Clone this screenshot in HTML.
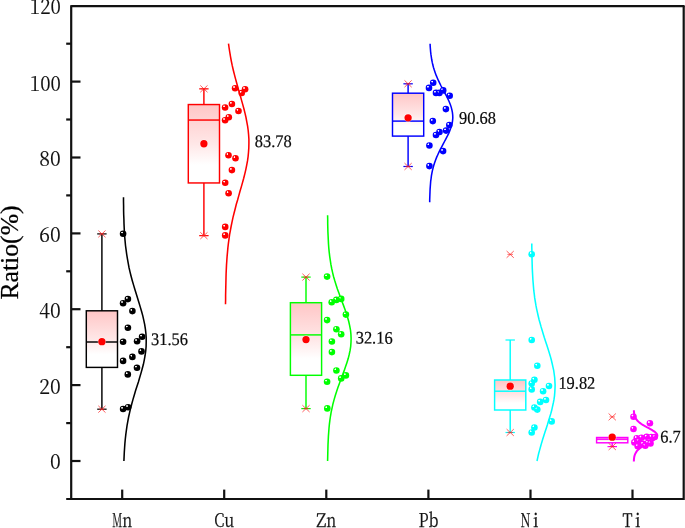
<!DOCTYPE html>
<html lang="en"><head><meta charset="utf-8"><title>Ratio box plot</title>
<style>html,body{margin:0;padding:0;background:#fff}svg{display:block}.tk{font-family:"Noto Serif CJK SC","Liberation Serif",serif;font-size:20.5px;fill:#111;stroke:#111;stroke-width:0.15px}.xk{font-family:"Noto Serif CJK SC","Liberation Serif",serif;font-size:19px;fill:#111;stroke:#111;stroke-width:0.25px}.vl{font-family:"Liberation Serif",serif;font-size:17px;fill:#0a0a0a;stroke:#0a0a0a;stroke-width:0.2px}.yl{font-family:"Liberation Serif",serif;font-size:26.2px;fill:#000;stroke:#000;stroke-width:0.25px}</style></head><body>
<svg width="685" height="528" viewBox="0 0 685 528">
<defs>
<linearGradient id="bg" x1="0" y1="0" x2="0" y2="1"><stop offset="0" stop-color="#ffc6c6"/><stop offset="0.5" stop-color="#ffe7e7"/><stop offset="0.77" stop-color="#ffffff"/><stop offset="1" stop-color="#ffffff"/></linearGradient>
<radialGradient id="s0" cx="0.34" cy="0.32" r="0.7"><stop offset="0" stop-color="#ffffff" stop-opacity="0.7"/><stop offset="0.08" stop-color="#ffffff" stop-opacity="0.5"/><stop offset="0.25" stop-color="#000000"/><stop offset="1" stop-color="#000000"/></radialGradient>
<radialGradient id="s1" cx="0.34" cy="0.32" r="0.7"><stop offset="0" stop-color="#ffffff" stop-opacity="0.7"/><stop offset="0.08" stop-color="#ffffff" stop-opacity="0.5"/><stop offset="0.25" stop-color="#ff0000"/><stop offset="1" stop-color="#ff0000"/></radialGradient>
<radialGradient id="s2" cx="0.34" cy="0.32" r="0.7"><stop offset="0" stop-color="#ffffff" stop-opacity="0.7"/><stop offset="0.08" stop-color="#ffffff" stop-opacity="0.5"/><stop offset="0.25" stop-color="#00ff00"/><stop offset="1" stop-color="#00ff00"/></radialGradient>
<radialGradient id="s3" cx="0.34" cy="0.32" r="0.7"><stop offset="0" stop-color="#ffffff" stop-opacity="0.7"/><stop offset="0.08" stop-color="#ffffff" stop-opacity="0.5"/><stop offset="0.25" stop-color="#0000ff"/><stop offset="1" stop-color="#0000ff"/></radialGradient>
<radialGradient id="s4" cx="0.34" cy="0.32" r="0.7"><stop offset="0" stop-color="#ffffff" stop-opacity="0.7"/><stop offset="0.08" stop-color="#ffffff" stop-opacity="0.5"/><stop offset="0.25" stop-color="#00ffff"/><stop offset="1" stop-color="#00ffff"/></radialGradient>
<radialGradient id="s5" cx="0.34" cy="0.32" r="0.7"><stop offset="0" stop-color="#ffffff" stop-opacity="0.7"/><stop offset="0.08" stop-color="#ffffff" stop-opacity="0.5"/><stop offset="0.25" stop-color="#ff00ff"/><stop offset="1" stop-color="#ff00ff"/></radialGradient>
</defs>
<rect width="685" height="528" fill="#ffffff"/>
<g id="g-Mn">
<g transform="translate(0 0.4)">
<line x1="101.9" y1="233.5" x2="101.9" y2="408.8" stroke="#000000" stroke-width="1.45"/>
<rect x="86.3" y="310.4" width="31.2" height="56.6" fill="url(#bg)" stroke="#000000" stroke-width="1.45"/>
<line x1="86.3" y1="341.6" x2="117.5" y2="341.6" stroke="#000000" stroke-width="1.45"/>
<line x1="97.2" y1="233.5" x2="106.6" y2="233.5" stroke="#000000" stroke-width="1.2"/>
<line x1="97.2" y1="408.8" x2="106.6" y2="408.8" stroke="#000000" stroke-width="1.2"/>
<path d="M98.3 230.1L105.5 236.9M98.3 236.9L105.5 230.1" stroke="#ff2020" stroke-width="0.8" fill="none" opacity="0.9"/>
<line x1="99.1" y1="233.5" x2="104.7" y2="233.5" stroke="#ff2020" stroke-width="1" opacity="0.6"/>
<path d="M98.3 405.4L105.5 412.2M98.3 412.2L105.5 405.4" stroke="#ff2020" stroke-width="0.8" fill="none" opacity="0.9"/>
<line x1="99.1" y1="408.8" x2="104.7" y2="408.8" stroke="#ff2020" stroke-width="1" opacity="0.6"/>
<circle cx="101.9" cy="341.3" r="4.2" fill="#ffffff" opacity="0.6"/>
<circle cx="101.9" cy="341.3" r="3.65" fill="#ff0000"/>
</g>
<path d="M123.5 197.2 L123.5 201.6 L123.6 206.0 L123.6 210.4 L123.7 214.8 L123.9 219.2 L124.0 223.6 L124.2 227.9 L124.4 232.3 L124.7 236.7 L125.1 241.1 L125.5 245.5 L126.1 249.9 L126.7 254.3 L127.4 258.7 L128.2 263.1 L129.0 267.5 L130.0 271.9 L131.1 276.3 L132.3 280.7 L133.6 285.1 L134.9 289.5 L136.3 293.9 L137.6 298.3 L139.0 302.7 L140.3 307.1 L141.6 311.5 L142.8 315.9 L143.8 320.3 L144.7 324.7 L145.4 329.1 L145.9 333.5 L146.2 337.9 L146.2 342.3 L146.1 346.7 L145.7 351.1 L145.1 355.5 L144.3 359.9 L143.4 364.3 L142.2 368.7 L141.0 373.1 L139.7 377.5 L138.4 381.9 L137.0 386.2 L135.6 390.6 L134.3 395.0 L133.0 399.4 L131.8 403.8 L130.6 408.2 L129.6 412.6 L128.6 417.0 L127.8 421.4 L127.0 425.8 L126.4 430.2 L125.8 434.6 L125.3 439.0 L124.9 443.4 L124.6 447.8 L124.3 452.2 L124.1 456.6 L123.9 461.0" fill="none" stroke="#000000" stroke-width="1.55" stroke-linecap="butt"/>
<circle cx="123.1" cy="233.7" r="3.3" fill="url(#s0)"/>
<circle cx="127.9" cy="299.1" r="3.3" fill="url(#s0)"/>
<circle cx="123.1" cy="303.2" r="3.3" fill="url(#s0)"/>
<circle cx="132.4" cy="311.1" r="3.3" fill="url(#s0)"/>
<circle cx="127.9" cy="327.7" r="3.3" fill="url(#s0)"/>
<circle cx="142.1" cy="336.8" r="3.3" fill="url(#s0)"/>
<circle cx="137.1" cy="341.2" r="3.3" fill="url(#s0)"/>
<circle cx="123.1" cy="341.7" r="3.3" fill="url(#s0)"/>
<circle cx="141.5" cy="351.4" r="3.3" fill="url(#s0)"/>
<circle cx="132.4" cy="356.9" r="3.3" fill="url(#s0)"/>
<circle cx="123.1" cy="360.9" r="3.3" fill="url(#s0)"/>
<circle cx="137.0" cy="367.8" r="3.3" fill="url(#s0)"/>
<circle cx="127.8" cy="374.4" r="3.3" fill="url(#s0)"/>
<circle cx="123.1" cy="409.0" r="3.3" fill="url(#s0)"/>
<circle cx="128.1" cy="407.2" r="3.3" fill="url(#s0)"/>
<text class="vl" transform="translate(151.0 345.0) rotate(0.05) scale(0.965 1.04)">31.56</text>
</g>
<g id="g-Cu">
<g transform="translate(0 0.25)">
<line x1="203.9" y1="88.6" x2="203.9" y2="235.4" stroke="#ff0000" stroke-width="1.45"/>
<rect x="188.3" y="104.3" width="31.2" height="78.4" fill="url(#bg)" stroke="#ff0000" stroke-width="1.45"/>
<line x1="188.3" y1="119.8" x2="219.5" y2="119.8" stroke="#ff0000" stroke-width="1.45"/>
<line x1="199.2" y1="88.6" x2="208.6" y2="88.6" stroke="#ff0000" stroke-width="1.2"/>
<line x1="199.2" y1="235.4" x2="208.6" y2="235.4" stroke="#ff0000" stroke-width="1.2"/>
<path d="M200.3 85.2L207.5 92.0M200.3 92.0L207.5 85.2" stroke="#ff2020" stroke-width="0.8" fill="none" opacity="0.9"/>
<line x1="201.1" y1="88.6" x2="206.7" y2="88.6" stroke="#ff2020" stroke-width="1" opacity="0.6"/>
<path d="M200.3 232.0L207.5 238.8M200.3 238.8L207.5 232.0" stroke="#ff2020" stroke-width="0.8" fill="none" opacity="0.9"/>
<line x1="201.1" y1="235.4" x2="206.7" y2="235.4" stroke="#ff2020" stroke-width="1" opacity="0.6"/>
<circle cx="203.9" cy="143.5" r="4.2" fill="#ffffff" opacity="0.6"/>
<circle cx="203.9" cy="143.5" r="3.65" fill="#ff0000"/>
</g>
<path d="M228.5 43.7 L229.1 48.0 L229.8 52.3 L230.5 56.7 L231.3 61.0 L232.2 65.4 L233.2 69.7 L234.3 74.1 L235.4 78.4 L236.6 82.7 L237.8 87.1 L239.0 91.4 L240.3 95.8 L241.5 100.1 L242.7 104.4 L243.9 108.8 L245.0 113.1 L246.0 117.5 L246.8 121.8 L247.6 126.2 L248.2 130.5 L248.6 134.8 L248.9 139.2 L248.9 143.5 L248.8 147.9 L248.5 152.2 L248.1 156.6 L247.5 160.9 L246.7 165.2 L245.8 169.6 L244.8 173.9 L243.7 178.3 L242.5 182.6 L241.3 186.9 L240.0 191.3 L238.8 195.6 L237.6 200.0 L236.3 204.3 L235.2 208.7 L234.1 213.0 L233.0 217.3 L232.1 221.7 L231.2 226.0 L230.4 230.4 L229.6 234.7 L229.0 239.0 L228.4 243.4 L227.9 247.7 L227.5 252.1 L227.1 256.4 L226.8 260.8 L226.5 265.1 L226.3 269.4 L226.1 273.8 L226.0 278.1 L225.9 282.5 L225.8 286.8 L225.7 291.1 L225.6 295.5 L225.6 299.8 L225.5 304.2" fill="none" stroke="#ff0000" stroke-width="1.55" stroke-linecap="butt"/>
<circle cx="235.1" cy="88.2" r="3.3" fill="url(#s1)"/>
<circle cx="245.1" cy="89.2" r="3.3" fill="url(#s1)"/>
<circle cx="241.7" cy="93.0" r="3.3" fill="url(#s1)"/>
<circle cx="231.9" cy="104.0" r="3.3" fill="url(#s1)"/>
<circle cx="225.1" cy="107.5" r="3.3" fill="url(#s1)"/>
<circle cx="238.5" cy="111.0" r="3.3" fill="url(#s1)"/>
<circle cx="228.8" cy="117.2" r="3.3" fill="url(#s1)"/>
<circle cx="225.1" cy="120.2" r="3.3" fill="url(#s1)"/>
<circle cx="228.5" cy="155.2" r="3.3" fill="url(#s1)"/>
<circle cx="235.5" cy="158.3" r="3.3" fill="url(#s1)"/>
<circle cx="231.9" cy="170.1" r="3.3" fill="url(#s1)"/>
<circle cx="225.2" cy="182.8" r="3.3" fill="url(#s1)"/>
<circle cx="228.6" cy="193.3" r="3.3" fill="url(#s1)"/>
<circle cx="225.2" cy="226.9" r="3.3" fill="url(#s1)"/>
<circle cx="225.2" cy="235.4" r="3.3" fill="url(#s1)"/>
<text class="vl" transform="translate(254.8 147.0) rotate(0.05) scale(0.965 1.04)">83.78</text>
</g>
<g id="g-Zn">
<g transform="translate(0 0.3)">
<line x1="306.0" y1="276.8" x2="306.0" y2="408.3" stroke="#00ff00" stroke-width="1.45"/>
<rect x="290.4" y="302.4" width="31.2" height="72.6" fill="url(#bg)" stroke="#00ff00" stroke-width="1.45"/>
<line x1="290.4" y1="334.6" x2="321.6" y2="334.6" stroke="#00ff00" stroke-width="1.45"/>
<line x1="301.3" y1="276.8" x2="310.7" y2="276.8" stroke="#00ff00" stroke-width="1.2"/>
<line x1="301.3" y1="408.3" x2="310.7" y2="408.3" stroke="#00ff00" stroke-width="1.2"/>
<path d="M302.4 273.4L309.6 280.2M302.4 280.2L309.6 273.4" stroke="#ff2020" stroke-width="0.8" fill="none" opacity="0.9"/>
<line x1="303.2" y1="276.8" x2="308.8" y2="276.8" stroke="#ff2020" stroke-width="1" opacity="0.6"/>
<path d="M302.4 404.9L309.6 411.7M302.4 411.7L309.6 404.9" stroke="#ff2020" stroke-width="0.8" fill="none" opacity="0.9"/>
<line x1="303.2" y1="408.3" x2="308.8" y2="408.3" stroke="#ff2020" stroke-width="1" opacity="0.6"/>
<circle cx="306.0" cy="339.3" r="4.2" fill="#ffffff" opacity="0.6"/>
<circle cx="306.0" cy="339.3" r="3.65" fill="#ff0000"/>
</g>
<path d="M327.6 215.3 L327.7 219.4 L327.7 223.5 L327.8 227.6 L327.9 231.7 L328.1 235.8 L328.3 239.9 L328.5 244.0 L328.8 248.1 L329.2 252.2 L329.7 256.3 L330.3 260.3 L330.9 264.4 L331.7 268.5 L332.6 272.6 L333.6 276.7 L334.8 280.8 L336.1 284.9 L337.4 289.0 L338.9 293.1 L340.4 297.2 L341.9 301.3 L343.5 305.4 L345.0 309.5 L346.4 313.6 L347.7 317.7 L348.8 321.8 L349.7 325.9 L350.5 330.0 L350.9 334.1 L351.1 338.2 L351.0 342.2 L350.7 346.3 L350.1 350.4 L349.2 354.5 L348.2 358.6 L346.9 362.7 L345.5 366.8 L344.1 370.9 L342.5 375.0 L341.0 379.1 L339.5 383.2 L338.0 387.3 L336.6 391.4 L335.3 395.5 L334.1 399.6 L333.0 403.7 L332.1 407.8 L331.2 411.9 L330.5 416.0 L329.9 420.1 L329.4 424.1 L329.0 428.2 L328.7 432.3 L328.4 436.4 L328.2 440.5 L328.0 444.6 L327.9 448.7 L327.8 452.8 L327.7 456.9 L327.6 461.0" fill="none" stroke="#00ff00" stroke-width="1.55" stroke-linecap="butt"/>
<circle cx="327.1" cy="276.6" r="3.3" fill="url(#s2)"/>
<circle cx="341.2" cy="298.9" r="3.3" fill="url(#s2)"/>
<circle cx="336.4" cy="299.9" r="3.3" fill="url(#s2)"/>
<circle cx="331.7" cy="302.3" r="3.3" fill="url(#s2)"/>
<circle cx="345.9" cy="314.6" r="3.3" fill="url(#s2)"/>
<circle cx="327.1" cy="320.1" r="3.3" fill="url(#s2)"/>
<circle cx="336.4" cy="329.2" r="3.3" fill="url(#s2)"/>
<circle cx="341.2" cy="334.3" r="3.3" fill="url(#s2)"/>
<circle cx="331.9" cy="341.5" r="3.3" fill="url(#s2)"/>
<circle cx="331.9" cy="352.1" r="3.3" fill="url(#s2)"/>
<circle cx="336.4" cy="370.5" r="3.3" fill="url(#s2)"/>
<circle cx="345.9" cy="375.4" r="3.3" fill="url(#s2)"/>
<circle cx="341.2" cy="378.4" r="3.3" fill="url(#s2)"/>
<circle cx="327.1" cy="381.8" r="3.3" fill="url(#s2)"/>
<circle cx="327.3" cy="408.4" r="3.3" fill="url(#s2)"/>
<text class="vl" transform="translate(355.7 343.6) rotate(0.05) scale(0.965 1.04)">32.16</text>
</g>
<g id="g-Pb">
<g transform="translate(0 0.5)">
<line x1="408.1" y1="83.3" x2="408.1" y2="166.0" stroke="#0000ff" stroke-width="1.45"/>
<rect x="392.5" y="92.7" width="31.2" height="42.9" fill="url(#bg)" stroke="#0000ff" stroke-width="1.45"/>
<line x1="392.5" y1="120.6" x2="423.7" y2="120.6" stroke="#0000ff" stroke-width="1.45"/>
<line x1="403.4" y1="83.3" x2="412.8" y2="83.3" stroke="#0000ff" stroke-width="1.2"/>
<line x1="403.4" y1="166.0" x2="412.8" y2="166.0" stroke="#0000ff" stroke-width="1.2"/>
<path d="M404.5 79.9L411.7 86.7M404.5 86.7L411.7 79.9" stroke="#ff2020" stroke-width="0.8" fill="none" opacity="0.9"/>
<line x1="405.3" y1="83.3" x2="410.9" y2="83.3" stroke="#ff2020" stroke-width="1" opacity="0.6"/>
<path d="M404.5 162.6L411.7 169.4M404.5 169.4L411.7 162.6" stroke="#ff2020" stroke-width="0.8" fill="none" opacity="0.9"/>
<line x1="405.3" y1="166.0" x2="410.9" y2="166.0" stroke="#ff2020" stroke-width="1" opacity="0.6"/>
<circle cx="408.1" cy="117.3" r="4.2" fill="#ffffff" opacity="0.6"/>
<circle cx="408.1" cy="117.3" r="3.65" fill="#ff0000"/>
</g>
<path d="M430.1 43.7 L430.2 46.3 L430.4 48.9 L430.6 51.6 L430.9 54.2 L431.3 56.9 L431.7 59.5 L432.2 62.2 L432.8 64.8 L433.5 67.5 L434.3 70.1 L435.2 72.7 L436.2 75.4 L437.3 78.0 L438.5 80.7 L439.8 83.3 L441.1 86.0 L442.5 88.6 L443.9 91.3 L445.3 93.9 L446.7 96.5 L448.0 99.2 L449.2 101.8 L450.3 104.5 L451.2 107.1 L451.9 109.8 L452.4 112.4 L452.7 115.0 L452.8 117.7 L452.6 120.3 L452.2 123.0 L451.6 125.6 L450.7 128.3 L449.7 130.9 L448.6 133.6 L447.3 136.2 L445.9 138.8 L444.5 141.5 L443.1 144.1 L441.7 146.8 L440.3 149.4 L439.0 152.1 L437.8 154.7 L436.6 157.4 L435.6 160.0 L434.7 162.6 L433.8 165.3 L433.1 167.9 L432.4 170.6 L431.9 173.2 L431.4 175.9 L431.1 178.5 L430.7 181.2 L430.5 183.8 L430.3 186.4 L430.1 189.1 L430.0 191.7 L429.9 194.4 L429.8 197.0 L429.7 199.7 L429.7 202.3" fill="none" stroke="#0000ff" stroke-width="1.55" stroke-linecap="butt"/>
<circle cx="433.2" cy="82.8" r="3.3" fill="url(#s3)"/>
<circle cx="429.0" cy="87.9" r="3.3" fill="url(#s3)"/>
<circle cx="443.2" cy="90.4" r="3.3" fill="url(#s3)"/>
<circle cx="436.0" cy="92.9" r="3.3" fill="url(#s3)"/>
<circle cx="439.4" cy="92.9" r="3.3" fill="url(#s3)"/>
<circle cx="449.7" cy="95.7" r="3.3" fill="url(#s3)"/>
<circle cx="445.9" cy="109.1" r="3.3" fill="url(#s3)"/>
<circle cx="432.8" cy="121.1" r="3.3" fill="url(#s3)"/>
<circle cx="449.3" cy="125.1" r="3.3" fill="url(#s3)"/>
<circle cx="446.1" cy="130.6" r="3.3" fill="url(#s3)"/>
<circle cx="439.5" cy="132.0" r="3.3" fill="url(#s3)"/>
<circle cx="436.0" cy="135.0" r="3.3" fill="url(#s3)"/>
<circle cx="429.4" cy="145.5" r="3.3" fill="url(#s3)"/>
<circle cx="443.1" cy="151.1" r="3.3" fill="url(#s3)"/>
<circle cx="429.4" cy="166.1" r="3.3" fill="url(#s3)"/>
<text class="vl" transform="translate(459.0 123.7) rotate(0.05) scale(0.965 1.04)">90.68</text>
</g>
<g id="g-Ni">
<g transform="translate(0 0.4)">
<line x1="510.2" y1="339.6" x2="510.2" y2="432.1" stroke="#00ffff" stroke-width="1.45"/>
<rect x="494.6" y="379.6" width="31.2" height="30.0" fill="url(#bg)" stroke="#00ffff" stroke-width="1.45"/>
<line x1="494.6" y1="390.8" x2="525.8" y2="390.8" stroke="#00ffff" stroke-width="1.45"/>
<line x1="505.5" y1="339.6" x2="514.9" y2="339.6" stroke="#00ffff" stroke-width="1.2"/>
<line x1="505.5" y1="432.1" x2="514.9" y2="432.1" stroke="#00ffff" stroke-width="1.2"/>
<path d="M506.6 250.6L513.8 257.4M506.6 257.4L513.8 250.6" stroke="#ff2020" stroke-width="0.8" fill="none" opacity="0.9"/>
<line x1="507.4" y1="254.0" x2="513.0" y2="254.0" stroke="#ff2020" stroke-width="1" opacity="0.6"/>
<path d="M506.6 428.7L513.8 435.5M506.6 435.5L513.8 428.7" stroke="#ff2020" stroke-width="0.8" fill="none" opacity="0.9"/>
<line x1="507.4" y1="432.1" x2="513.0" y2="432.1" stroke="#ff2020" stroke-width="1" opacity="0.6"/>
<circle cx="510.2" cy="385.8" r="4.2" fill="#ffffff" opacity="0.6"/>
<circle cx="510.2" cy="385.8" r="3.65" fill="#ff0000"/>
</g>
<path d="M531.8 243.6 L531.8 247.2 L531.9 250.8 L531.9 254.4 L532.0 258.1 L532.1 261.7 L532.2 265.3 L532.3 268.9 L532.5 272.6 L532.7 276.2 L532.9 279.8 L533.2 283.4 L533.5 287.1 L533.8 290.7 L534.3 294.3 L534.7 297.9 L535.3 301.5 L535.9 305.2 L536.6 308.8 L537.4 312.4 L538.2 316.0 L539.1 319.7 L540.1 323.3 L541.1 326.9 L542.2 330.5 L543.3 334.2 L544.4 337.8 L545.6 341.4 L546.8 345.0 L548.0 348.7 L549.1 352.3 L550.2 355.9 L551.2 359.5 L552.1 363.2 L552.9 366.8 L553.7 370.4 L554.2 374.0 L554.7 377.7 L554.9 381.3 L555.1 384.9 L555.0 388.5 L554.8 392.1 L554.5 395.8 L554.0 399.4 L553.3 403.0 L552.5 406.6 L551.7 410.3 L550.7 413.9 L549.6 417.5 L548.5 421.1 L547.4 424.8 L546.2 428.4 L545.0 432.0 L543.9 435.6 L542.7 439.3 L541.6 442.9 L540.6 446.5 L539.6 450.1 L538.6 453.8 L537.8 457.4 L537.0 461.0" fill="none" stroke="#00ffff" stroke-width="1.55" stroke-linecap="butt"/>
<circle cx="531.7" cy="254.2" r="3.3" fill="url(#s4)"/>
<circle cx="531.7" cy="340.0" r="3.3" fill="url(#s4)"/>
<circle cx="537.3" cy="365.8" r="3.3" fill="url(#s4)"/>
<circle cx="534.4" cy="379.8" r="3.3" fill="url(#s4)"/>
<circle cx="531.7" cy="383.5" r="3.3" fill="url(#s4)"/>
<circle cx="549.0" cy="386.0" r="3.3" fill="url(#s4)"/>
<circle cx="531.7" cy="389.4" r="3.3" fill="url(#s4)"/>
<circle cx="543.1" cy="391.2" r="3.3" fill="url(#s4)"/>
<circle cx="546.0" cy="400.0" r="3.3" fill="url(#s4)"/>
<circle cx="540.2" cy="401.9" r="3.3" fill="url(#s4)"/>
<circle cx="534.4" cy="407.5" r="3.3" fill="url(#s4)"/>
<circle cx="537.3" cy="409.6" r="3.3" fill="url(#s4)"/>
<circle cx="551.7" cy="421.4" r="3.3" fill="url(#s4)"/>
<circle cx="534.4" cy="427.5" r="3.3" fill="url(#s4)"/>
<circle cx="531.7" cy="432.5" r="3.3" fill="url(#s4)"/>
<text class="vl" transform="translate(558.4 388.7) rotate(0.05) scale(0.965 1.04)">19.82</text>
</g>
<g id="g-Ti">
<g transform="translate(0 0.5)">
<line x1="612.2" y1="436.9" x2="612.2" y2="446.1" stroke="#ff00ff" stroke-width="1.45"/>
<rect x="596.6" y="437.0" width="31.2" height="5.3" fill="url(#bg)" stroke="#ff00ff" stroke-width="1.45"/>
<line x1="596.6" y1="438.7" x2="627.9" y2="438.7" stroke="#ff00ff" stroke-width="1.45"/>
<line x1="607.5" y1="446.1" x2="617.0" y2="446.1" stroke="#ff00ff" stroke-width="1.2"/>
<path d="M608.6 413.0L615.9 419.8M608.6 419.8L615.9 413.0" stroke="#ff2020" stroke-width="0.8" fill="none" opacity="0.9"/>
<line x1="609.5" y1="416.4" x2="615.0" y2="416.4" stroke="#ff2020" stroke-width="1" opacity="0.6"/>
<path d="M608.6 442.7L615.9 449.5M608.6 449.5L615.9 442.7" stroke="#ff2020" stroke-width="0.8" fill="none" opacity="0.9"/>
<line x1="609.5" y1="446.1" x2="615.0" y2="446.1" stroke="#ff2020" stroke-width="1" opacity="0.6"/>
<circle cx="612.2" cy="436.7" r="4.2" fill="#ffffff" opacity="0.6"/>
<circle cx="612.2" cy="436.7" r="3.65" fill="#ff0000"/>
</g>
<path d="M633.9 410.3 L633.9 411.2 L634.0 412.1 L634.1 412.9 L634.2 413.8 L634.4 414.6 L634.6 415.5 L634.8 416.3 L635.1 417.2 L635.5 418.0 L636.0 418.9 L636.6 419.7 L637.3 420.6 L638.2 421.4 L639.1 422.3 L640.2 423.1 L641.4 424.0 L642.7 424.8 L644.2 425.7 L645.7 426.5 L647.2 427.4 L648.8 428.2 L650.4 429.1 L651.8 429.9 L653.2 430.8 L654.5 431.6 L655.5 432.5 L656.4 433.3 L657.0 434.2 L657.3 435.1 L657.3 435.9 L657.1 436.8 L656.6 437.6 L655.8 438.5 L654.8 439.3 L653.6 440.2 L652.2 441.0 L650.7 441.9 L649.2 442.7 L647.6 443.6 L646.0 444.4 L644.5 445.3 L643.1 446.1 L641.7 447.0 L640.5 447.8 L639.4 448.7 L638.4 449.5 L637.5 450.4 L636.8 451.2 L636.2 452.1 L635.7 452.9 L635.2 453.8 L634.9 454.6 L634.6 455.5 L634.4 456.3 L634.2 457.2 L634.1 458.0 L634.0 458.9 L633.9 459.8 L633.9 460.6 L633.8 461.5" fill="none" stroke="#ff00ff" stroke-width="2.0" stroke-linecap="butt"/>
<circle cx="633.5" cy="416.7" r="3.3" fill="url(#s5)"/>
<circle cx="649.9" cy="423.3" r="3.3" fill="url(#s5)"/>
<circle cx="633.5" cy="429.0" r="3.3" fill="url(#s5)"/>
<circle cx="636.7" cy="438.2" r="3.3" fill="url(#s5)"/>
<circle cx="641.5" cy="437.7" r="3.3" fill="url(#s5)"/>
<circle cx="646.7" cy="436.8" r="3.3" fill="url(#s5)"/>
<circle cx="651.4" cy="437.0" r="3.3" fill="url(#s5)"/>
<circle cx="654.7" cy="437.0" r="3.3" fill="url(#s5)"/>
<circle cx="634.4" cy="442.4" r="3.3" fill="url(#s5)"/>
<circle cx="638.6" cy="441.0" r="3.3" fill="url(#s5)"/>
<circle cx="642.9" cy="443.9" r="3.3" fill="url(#s5)"/>
<circle cx="648.1" cy="442.9" r="3.3" fill="url(#s5)"/>
<circle cx="637.7" cy="446.2" r="3.3" fill="url(#s5)"/>
<circle cx="650.5" cy="443.4" r="3.3" fill="url(#s5)"/>
<circle cx="645.3" cy="445.8" r="3.3" fill="url(#s5)"/>
<text class="vl" transform="translate(660.2 442.6) rotate(0.05) scale(0.965 1.04)">6.7</text>
</g>
<g stroke="#111" stroke-width="2.2" fill="none" stroke-linecap="butt">
<path d="M66.2 499.0H683.7"/>
<path d="M71.2 499.9V5.199999999999999"/>
<path d="M71.2 6.1H684.6"/>
<path d="M683.7 6.1V499.9"/>
<path d="M71.2 461.0h9.3"/>
<path d="M71.2 385.1h9.3"/>
<path d="M71.2 309.2h9.3"/>
<path d="M71.2 233.4h9.3"/>
<path d="M71.2 157.5h9.3"/>
<path d="M71.2 81.6h9.3"/>
<path d="M71.2 423.1h-5"/>
<path d="M71.2 347.2h-5"/>
<path d="M71.2 271.3h-5"/>
<path d="M71.2 195.4h-5"/>
<path d="M71.2 119.5h-5"/>
<path d="M71.2 43.7h-5"/>
<path d="M122.2 499.0v-9.4"/>
<path d="M224.2 499.0v-9.4"/>
<path d="M326.3 499.0v-9.4"/>
<path d="M428.4 499.0v-9.4"/>
<path d="M530.5 499.0v-9.4"/>
<path d="M632.5 499.0v-9.4"/>
</g>
<text class="tk" x="50.10" y="469.45" textLength="10.75" lengthAdjust="spacingAndGlyphs">0</text>
<text class="tk" x="39.35" y="393.57" textLength="21.50" lengthAdjust="spacingAndGlyphs">20</text>
<text class="tk" x="39.35" y="317.69" textLength="21.50" lengthAdjust="spacingAndGlyphs">40</text>
<text class="tk" x="39.35" y="241.81" textLength="21.50" lengthAdjust="spacingAndGlyphs">60</text>
<text class="tk" x="39.35" y="165.93" textLength="21.50" lengthAdjust="spacingAndGlyphs">80</text>
<text class="tk" x="29.86" y="90.70" textLength="30.99" lengthAdjust="spacingAndGlyphs">100</text>
<text class="tk" x="29.86" y="13.82" textLength="30.99" lengthAdjust="spacingAndGlyphs">120</text>
<text class="xk" x="112.2" y="526.7"><tspan textLength="10" lengthAdjust="spacingAndGlyphs">M</tspan><tspan textLength="10" lengthAdjust="spacingAndGlyphs">n</tspan></text>
<text class="xk" x="214.2" y="526.7"><tspan textLength="10" lengthAdjust="spacingAndGlyphs">C</tspan><tspan textLength="10" lengthAdjust="spacingAndGlyphs">u</tspan></text>
<text class="xk" x="316.3" y="526.7"><tspan textLength="10" lengthAdjust="spacingAndGlyphs">Z</tspan><tspan textLength="10" lengthAdjust="spacingAndGlyphs">n</tspan></text>
<text class="xk" x="418.4" y="526.7"><tspan textLength="10" lengthAdjust="spacingAndGlyphs">P</tspan><tspan textLength="10" lengthAdjust="spacingAndGlyphs">b</tspan></text>
<text class="xk" x="520.5" y="526.7"><tspan textLength="10" lengthAdjust="spacingAndGlyphs">N</tspan><tspan dx="2.4" textLength="5.6" lengthAdjust="spacingAndGlyphs">i</tspan></text>
<text class="xk" x="622.5" y="526.7"><tspan textLength="10" lengthAdjust="spacingAndGlyphs">T</tspan><tspan dx="2.4" textLength="5.6" lengthAdjust="spacingAndGlyphs">i</tspan></text>
<text class="yl" transform="translate(18.35 252.5) rotate(-90)" x="-47.1" textLength="94.2" lengthAdjust="spacingAndGlyphs">Ratio(%)</text>
</svg></body></html>
